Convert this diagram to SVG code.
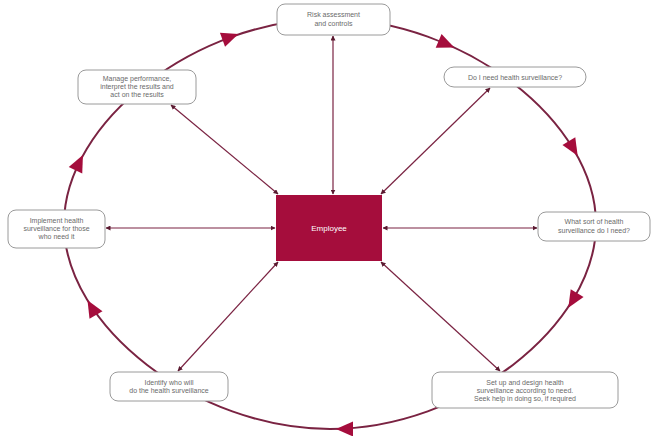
<svg xmlns="http://www.w3.org/2000/svg" width="652" height="436" viewBox="0 0 652 436">
<style>
.ring{fill:none;stroke:#7a2342;stroke-width:2}
.spoke{fill:none;stroke:#7a2342;stroke-width:1.2;marker-start:url(#sa);marker-end:url(#sa)}
.head{fill:#a50d3c}
.box{fill:#fff;stroke:#9a9a9a;stroke-width:1}
.t{font-family:"Liberation Sans",Arial,sans-serif;font-size:7px;fill:#6a6a6a;text-anchor:middle}
.emp{fill:#a50d3c}
.et{font-family:"Liberation Sans",Arial,sans-serif;font-size:8px;fill:#fff;text-anchor:middle}
</style>
<defs>
<marker id="sa" viewBox="0 0 10 10" refX="9" refY="5" markerWidth="5" markerHeight="5" orient="auto-start-reverse" markerUnits="userSpaceOnUse">
<path d="M0 0L10 5L0 10Z" fill="#5a1a30"/>
</marker>
<polygon id="ah" points="9,0 -8,-7.5 -8,7.5"/>
</defs>
<rect width="652" height="436" fill="#fff"/>
<g id="connectors">
<path class="ring" d="M330 19 C463 19 596 121.5 596 224 C596 326.5 463 429 330 429 C197 429 64 326.5 64 224 C64 121.5 197 19 330 19Z"/>
<g class="head">
<use href="#ah" transform="translate(230,37) rotate(-20)"/>
<use href="#ah" transform="translate(446,44) rotate(23)"/>
<use href="#ah" transform="translate(573,148) rotate(59)"/>
<use href="#ah" transform="translate(573,300) rotate(121)"/>
<use href="#ah" transform="translate(345,429) rotate(180)"/>
<use href="#ah" transform="translate(92,308) rotate(240)"/>
<use href="#ah" transform="translate(79,163) rotate(-64)"/>
</g>
<line class="spoke" x1="333" y1="36" x2="333" y2="194"/>
<line class="spoke" x1="171" y1="105" x2="278" y2="194"/>
<line class="spoke" x1="490" y1="88" x2="381" y2="194"/>
<line class="spoke" x1="537" y1="228" x2="383" y2="228"/>
<line class="spoke" x1="106" y1="228" x2="275" y2="228"/>
<line class="spoke" x1="178" y1="371" x2="278" y2="262"/>
<line class="spoke" x1="500" y1="371" x2="381" y2="262"/>
</g>
<g id="employee">
<rect class="emp" x="276" y="195" width="106" height="66"/>
<text class="et" x="329" y="231">Employee</text>
</g>
<g id="risk">
<rect class="box" x="277" y="4" width="113" height="31" rx="8"/>
<text class="t" x="333.5" y="17">Risk assessment</text>
<text class="t" x="333.5" y="26">and controls</text>
</g>
<g id="need">
<rect class="box" x="444" y="67" width="142" height="20" rx="10"/>
<text class="t" x="515" y="79.5">Do I need health surveillance?</text>
</g>
<g id="sort">
<rect class="box" x="538" y="212" width="112" height="29" rx="8"/>
<text class="t" x="594" y="224">What sort of health</text>
<text class="t" x="594" y="233">surveillance do I need?</text>
</g>
<g id="setup">
<rect class="box" x="432" y="372" width="186" height="36" rx="8"/>
<text class="t" x="525" y="385">Set up and design health</text>
<text class="t" x="525" y="393">surveillance according to need.</text>
<text class="t" x="525" y="401">Seek help in doing so, if required</text>
</g>
<g id="identify">
<rect class="box" x="110" y="372" width="118" height="29" rx="8"/>
<text class="t" x="169" y="385">Identify who will</text>
<text class="t" x="169" y="393">do the health surveillance</text>
</g>
<g id="implement">
<rect class="box" x="8" y="210" width="97" height="38" rx="8"/>
<text class="t" x="56.5" y="223">Implement health</text>
<text class="t" x="56.5" y="231">surveillance for those</text>
<text class="t" x="56.5" y="239">who need it</text>
</g>
<g id="manage">
<rect class="box" x="78" y="70" width="118" height="34" rx="8"/>
<text class="t" x="137" y="81">Manage performance,</text>
<text class="t" x="137" y="89">interpret the results and</text>
<text class="t" x="137" y="97">act on the results</text>
</g>
</svg>
